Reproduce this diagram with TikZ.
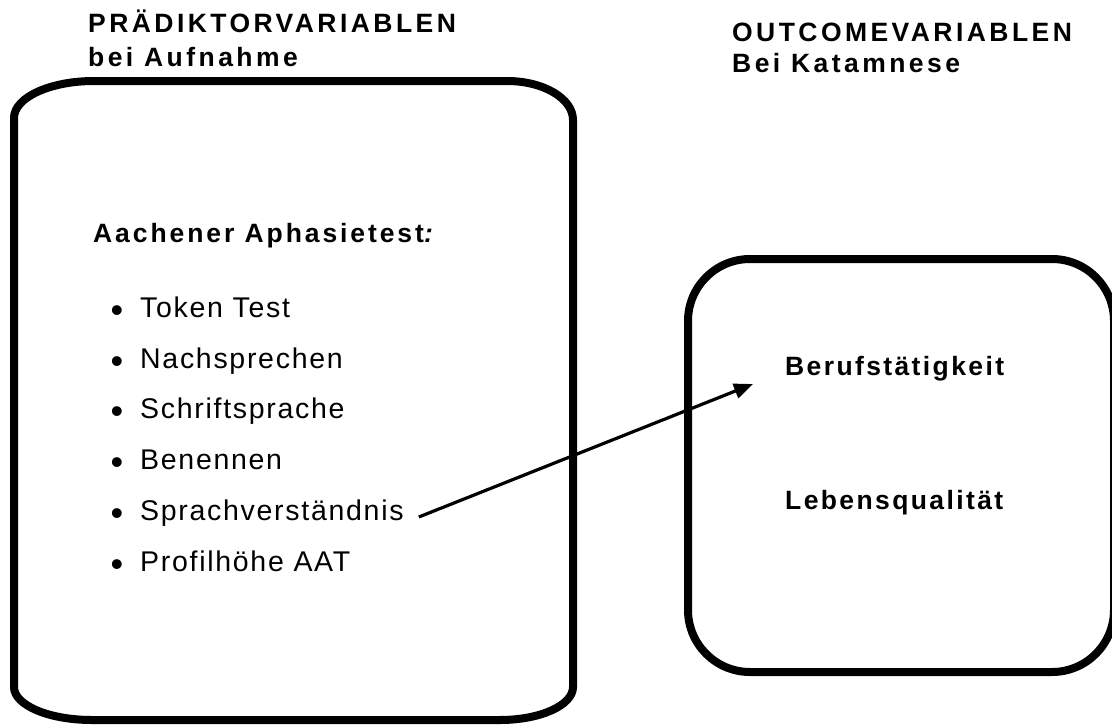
\documentclass[tikz,border=0pt]{standalone}
\usepackage{fontspec}
\setmainfont{Liberation Sans}
\newfontfamily\headf[LetterSpace=13]{Liberation Sans}
\newfontfamily\aachf[LetterSpace=11]{Liberation Sans}
\newfontfamily\outf[LetterSpace=9]{Liberation Sans}
\newfontfamily\itemf[LetterSpace=6]{Liberation Sans}
\usetikzlibrary{arrows.meta}
\begin{document}
\begin{tikzpicture}[x=1pt,y=-1pt,
  txt/.style={anchor=base west, inner sep=0pt},
  head/.style={txt, font={\headf\bfseries\fontsize{26.5}{30}\selectfont}},
  aach/.style={txt, font={\aachf\bfseries\fontsize{26.5}{30}\selectfont}},
  outc/.style={txt, font={\outf\bfseries\fontsize{26.5}{30}\selectfont}},
  item/.style={txt, font={\itemf\fontsize{28.5}{32}\selectfont}},
  bul/.style={anchor=base, inner sep=0pt, font={\fontsize{36}{36}\selectfont}},
  box/.style={draw=black, line width=8pt},
  arr/.style={draw=black, line width=3.2pt, -{Triangle[length=19pt,width=15pt]}}]
\useasboundingbox (0,0) rectangle (1112,726);
\fill[white] (0,0) rectangle (1112,726);
% headings
\node[head] (h1) at (88,32) {PRÄDIKTORVARIABLEN};
\node[head] (h2) at (88,66) {bei Aufnahme};
\node[head] (h3) at (732,41) {OUTCOMEVARIABLEN};
\node[head] (h4) at (732,72) {Bei Katamnese};
% left box
\draw[box] (14,118) -- (14,687)
  arc[start angle=180, end angle=90, x radius=78, y radius=33] -- (500,720)
  arc[start angle=90, end angle=0, x radius=73, y radius=33] -- (573,120)
  arc[start angle=0, end angle=-90, x radius=66, y radius=39] -- (94,81)
  arc[start angle=-90, end angle=-180, x radius=80, y radius=37] -- cycle;
% right box
\draw[box, rounded corners=62pt] (688,259) rectangle (1114,672);
% left texts
\node[aach] (aat) at (93,242) {Aachener Aphasietest\textit{:}};
\node[bul] (b1) at (117,322) {\textbullet};
\node[bul] (b2) at (117,373) {\textbullet};
\node[bul] (b3) at (117,423) {\textbullet};
\node[bul] (b4) at (117,474) {\textbullet};
\node[bul] (b5) at (117,525) {\textbullet};
\node[bul] (b6) at (117,576) {\textbullet};
\node[item] (s1) at (140,317) {Token Test};
\node[item] (s2) at (140,368) {Nachsprechen};
\node[item] (s3) at (140,418) {Schriftsprache};
\node[item] (s4) at (140,469) {Benennen};
\node[item] (s5) at (140,520) {Sprachverständnis};
\node[item] (s6) at (140,571) {Profilhöhe AAT};
% right texts
\node[outc] (o1) at (785,375) {Berufstätigkeit};
\node[outc] (o2) at (785,509) {Lebensqualität};
% arrow
\coordinate (tip) at (753,384);
\draw[arr] ([xshift=15pt,yshift=3pt]s5.base east) -- (tip);
\end{tikzpicture}
\end{document}
